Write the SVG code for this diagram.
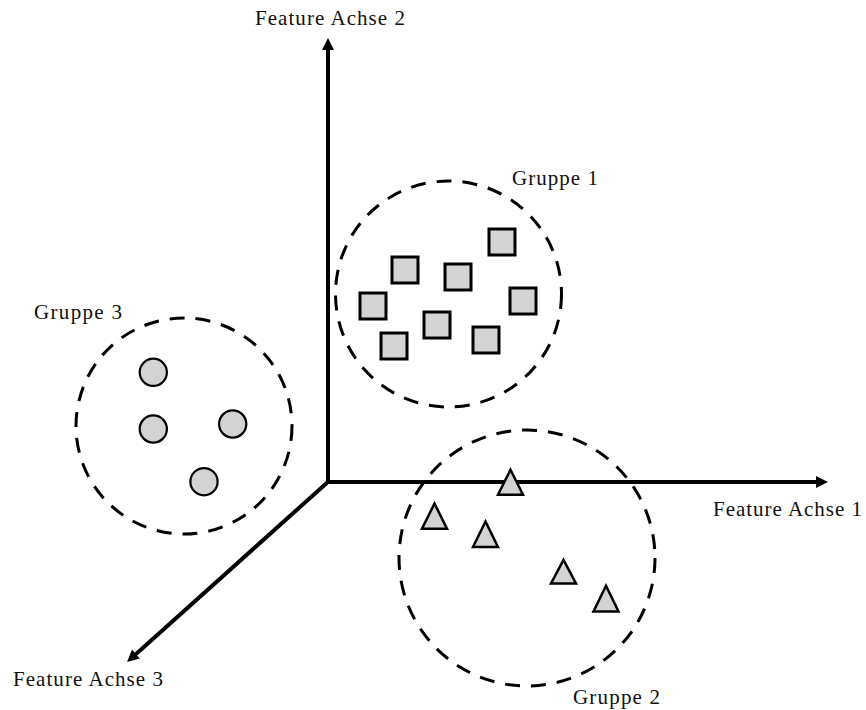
<svg xmlns="http://www.w3.org/2000/svg" width="866" height="710" viewBox="0 0 866 710">
  <style>
    .lbl { font-family: "Liberation Serif", "Times New Roman", serif; font-size: 21px; fill: #111; }
    .axis { stroke: #000; stroke-width: 4; fill: none; }
    .boundary { fill: none; stroke: #000; stroke-width: 3; stroke-dasharray: 15 11; }
    .pt { fill: #d3d3d3; stroke: #000; }
    .sq { stroke-width: 3; }
    .ci { stroke-width: 2.2; }
    .tr { stroke-width: 2.5; stroke-linejoin: miter; }
  </style>
  <defs>
    <marker id="arrow" viewBox="0 0 12 12" markerWidth="12" markerHeight="12" refX="4" refY="6" orient="auto" markerUnits="userSpaceOnUse">
      <path d="M0,0 L12,6 L0,12 z" fill="#000"/>
    </marker>
  </defs>
  <rect width="866" height="710" fill="#fff"/>

  <g id="connectors">
    <line class="axis" x1="328" y1="482" x2="328" y2="46" marker-end="url(#arrow)"/>
    <line class="axis" x1="326" y1="482" x2="820" y2="482" marker-end="url(#arrow)"/>
    <line class="axis" x1="329" y1="481" x2="133" y2="656.7" marker-end="url(#arrow)"/>
  </g>

  <g id="axis-labels">
    <text class="lbl" x="255" y="25" textLength="150" lengthAdjust="spacing">Feature Achse 2</text>
    <text class="lbl" x="713" y="516" textLength="149" lengthAdjust="spacing">Feature Achse 1</text>
    <text class="lbl" x="13" y="686" textLength="150" lengthAdjust="spacing">Feature Achse 3</text>
  </g>

  <g id="gruppe1">
    <circle class="boundary" cx="448.5" cy="294" r="113"/>
    <text class="lbl" x="512" y="185" textLength="86" lengthAdjust="spacing">Gruppe 1</text>
    <rect class="pt sq" x="489" y="229" width="26" height="26"/>
    <rect class="pt sq" x="392" y="257" width="26" height="26"/>
    <rect class="pt sq" x="445" y="264" width="26" height="26"/>
    <rect class="pt sq" x="360" y="293" width="26" height="26"/>
    <rect class="pt sq" x="510" y="288" width="26" height="26"/>
    <rect class="pt sq" x="424" y="312" width="26" height="26"/>
    <rect class="pt sq" x="381" y="333" width="26" height="26"/>
    <rect class="pt sq" x="473" y="327" width="26" height="26"/>
  </g>

  <g id="gruppe2">
    <circle class="boundary" cx="527" cy="558" r="128"/>
    <text class="lbl" x="573" y="704" textLength="87" lengthAdjust="spacing">Gruppe 2</text>
    <polygon class="pt tr" points="510.5,469.8 523,494.8 498,494.8"/>
    <polygon class="pt tr" points="434.5,503.5 447,528.8 422,528.8"/>
    <polygon class="pt tr" points="485.5,521.5 498,547 473,547"/>
    <polygon class="pt tr" points="563.5,559.8 576,583.4 551,583.4"/>
    <polygon class="pt tr" points="606,585.8 618.5,611.4 593.5,611.4"/>
  </g>

  <g id="gruppe3">
    <circle class="boundary" cx="184" cy="426" r="108"/>
    <text class="lbl" x="34" y="319" textLength="88" lengthAdjust="spacing">Gruppe 3</text>
    <circle class="pt ci" cx="153.3" cy="372.3" r="13.6"/>
    <circle class="pt ci" cx="153.3" cy="429" r="13.6"/>
    <circle class="pt ci" cx="232.7" cy="424" r="13.6"/>
    <circle class="pt ci" cx="204" cy="481.7" r="13.6"/>
  </g>
</svg>
